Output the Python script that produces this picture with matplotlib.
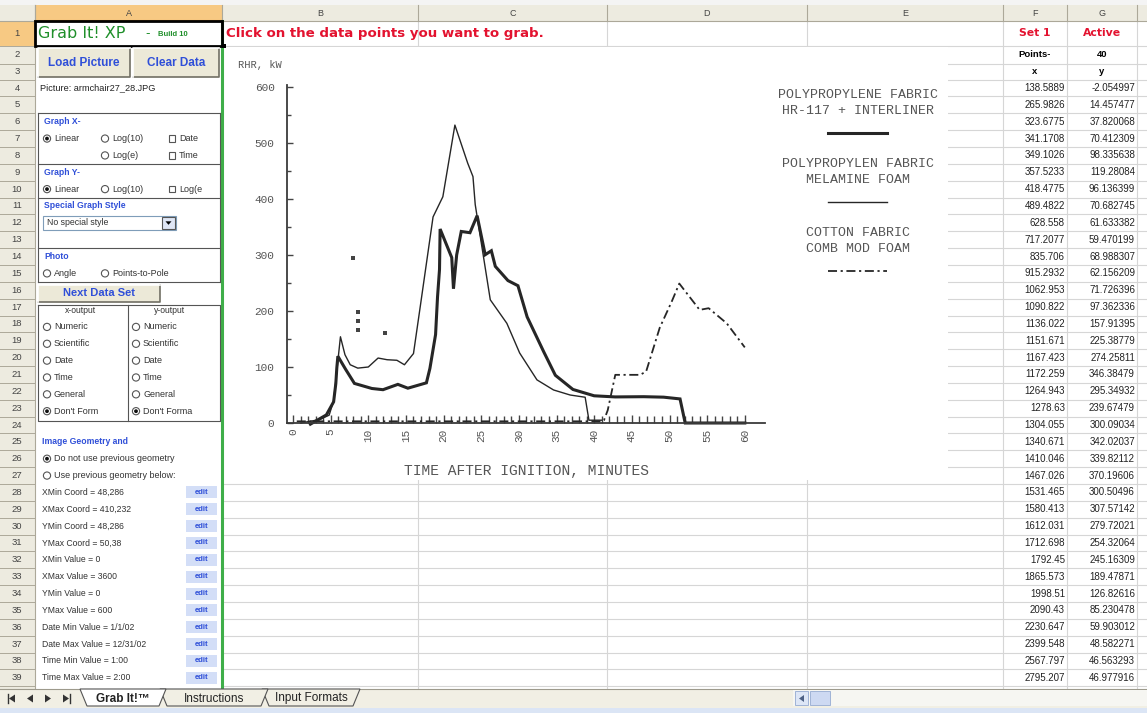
import matplotlib
matplotlib.use("Agg")
import matplotlib.pyplot as plt
from matplotlib.patches import Rectangle, Circle, Polygon

W, H = 1147, 713

# ---------------- data ----------------
# Set 1 as grabbed by the sheet: time in seconds, heat release in kW
set1_x = [138.5889, 265.9826, 323.6775, 341.1708, 349.1026, 357.5233, 418.4775,
          489.4822, 628.558, 717.2077, 835.706, 915.2932, 1062.953, 1090.822,
          1136.022, 1151.671, 1167.423, 1172.259, 1264.943, 1278.63, 1304.055,
          1340.671, 1410.046, 1467.026, 1531.465, 1580.413, 1612.031, 1712.698,
          1792.45, 1865.573, 1998.51, 2090.43, 2230.647, 2399.548, 2567.797,
          2795.207, 2953.443, 3084.0, 3125.0, 3600.0]
set1_y = [-2.054997, 14.457477, 37.820068, 70.412309, 98.335638, 119.28084,
          96.136399, 70.682745, 61.633382, 59.470199, 68.988307, 62.156209,
          71.726396, 97.362336, 157.91395, 225.38779, 274.25811, 346.38479,
          295.34932, 239.67479, 300.09034, 342.02037, 339.82112, 370.19606,
          300.50496, 307.57142, 279.72021, 254.32064, 245.16309, 189.47871,
          126.82616, 85.230478, 59.903012, 48.582271, 46.563293, 46.977916,
          46.12117, 43.0, 0.0, 0.0]
n_points = len(set1_x)
n_shown = 36   # rows fully visible above the sheet tabs

# the other two curves of the scanned plot (minutes, kW)
mela_t = [1.0, 3.5, 4.8, 5.4, 6.3, 6.9, 7.6, 8.6, 10.0, 11.3, 12.5, 13.8, 14.8,
          16.0, 16.9, 18.6, 19.9, 21.5, 23.2, 23.9, 24.2, 26.2, 28.4, 30.1,
          32.4, 34.6, 36.8, 38.8, 39.3, 41.0]
mela_q = [0, 6, 14, 40, 154, 122, 104, 98, 100, 116, 113, 112, 104, 124, 208,
          368, 404, 532, 464, 440, 390, 220, 178, 125, 77, 59, 50, 46, 5, 5]
cotton_t = [0.5, 41.0, 41.3, 41.8, 42.8, 46.1, 46.9, 48.7, 50.3, 51.3, 54.0,
            55.2, 57.6, 60.0]
cotton_q = [3, 3, 5, 23, 86, 86, 92, 170, 217, 249, 202, 205, 178, 135]
speck_t = [8.0, 8.6, 8.6, 8.6, 12.2]
speck_q = [295, 198, 182, 166, 161]

y_ticks = [0, 100, 200, 300, 400, 500, 600]
x_ticks = [0, 5, 10, 15, 20, 25, 30, 35, 40, 45, 50, 55, 60]
legend_blocks = [("POLYPROPYLENE FABRIC", "HR-117 + INTERLINER"),
                 ("POLYPROPYLEN FABRIC", "MELAMINE FOAM"),
                 ("COTTON FABRIC", "COMB MOD FOAM")]

col_names = ["A", "B", "C", "D", "E", "F", "G"]
col_edges = [35, 222, 418, 607, 807, 1003, 1067, 1137]

output_kinds = ["Numeric", "Scientific", "Date", "Time", "General", "Don't Form"]
geometry = ["XMin Coord = 48,286", "XMax Coord = 410,232", "YMin Coord = 48,286",
            "YMax Coord = 50,38", "XMin Value = 0", "XMax Value = 3600",
            "YMin Value = 0", "YMax Value = 600", "Date Min Value = 1/1/02",
            "Date Max Value = 12/31/02", "Time Min Value = 1:00",
            "Time Max Value = 2:00"]
sheet_tabs = ["Grab It!\u2122", "Instructions", "Input Formats"]

SANS = "Liberation Sans"
WIDE = "DejaVu Sans"
MONO = "Liberation Mono"
BLUE = "#2f4fd8"
GRID = "#d6d6d6"
HEAD = "#edebe0"
HEAD_EDGE = "#aca899"
TAB_Y = 689


def row_top(k):
    if k == 1:
        return 21
    if k == 2:
        return 46
    if k == 3:
        return 63.5
    return 79.6 + (k - 4) * 16.85


def row_mid(k):
    return (row_top(k) + row_top(k + 1)) / 2


fig = plt.figure(figsize=(W / 100, H / 100), dpi=100)
ax = fig.add_axes([0, 0, 1, 1])
ax.set_xlim(0, W)
ax.set_ylim(H, 0)
ax.axis("off")


def txt(x, y, s, size=6.5, color="#333333", ha="left", weight="normal",
        family=SANS, z=4):
    ax.text(x, y, s, fontsize=size, color=color, ha=ha, va="center",
            family=family, fontweight=weight, zorder=z)


def button(x0, y0, x1, y1, label, size=8.5):
    ax.add_patch(Rectangle((x0, y0), x1 - x0, y1 - y0, fc="#ece9d8", ec="none",
                           zorder=3))
    ax.plot([x0, x1, x1], [y1, y1, y0], color="#716f64", lw=1.2, zorder=3.2)
    ax.plot([x0, x0, x1], [y1, y0, y0], color="white", lw=1.2, zorder=3.2)
    txt((x0 + x1) / 2, (y0 + y1) / 2, label, size=size, color=BLUE, ha="center",
        weight="bold")


def radio(x, y, on=False):
    ax.add_patch(Circle((x, y), 3.6, fc="white", ec="#555555", lw=0.8, zorder=3))
    if on:
        ax.add_patch(Circle((x, y), 1.9, fc="#111111", ec="none", zorder=3.5))


def check(x, y):
    ax.add_patch(Rectangle((x - 3.3, y - 3.3), 6.6, 6.6, fc="white", ec="#555555",
                           lw=0.8, zorder=3))


def pline(xs, ys, color="#555555", lw=0.8):
    ax.plot(xs, ys, color=color, lw=lw, zorder=3)


# ---------------- sheet grid ----------------
for k in range(1, 41):
    y = row_top(k + 1)
    ax.plot([222, W], [y, y], color=GRID, lw=0.8, zorder=1)
for e in col_edges[1:]:
    ax.plot([e, e], [21, TAB_Y], color=GRID, lw=0.8, zorder=1)

# column headers
ax.add_patch(Rectangle((0, 0), W, 5, fc="#f4f4f4", ec="none"))
ax.add_patch(Rectangle((0, 5), W, 16, fc=HEAD, ec="none"))
ax.add_patch(Rectangle((35, 5), 187, 16, fc="#f7c983", ec="none"))
ax.plot([0, W], [21, 21], color=HEAD_EDGE, lw=0.8)
ax.plot([35, 222], [20.5, 20.5], color="#e39a2e", lw=1.5)
for e in col_edges:
    ax.plot([e, e], [5, 21], color=HEAD_EDGE, lw=0.8)
for i, name in enumerate(col_names):
    txt((col_edges[i] + col_edges[i + 1]) / 2, 13, name, size=6.5,
        color="#444444", ha="center")

# row headers
ax.add_patch(Rectangle((0, 21), 35, TAB_Y - 21, fc=HEAD, ec="none"))
ax.add_patch(Rectangle((0, 21), 35, 25, fc="#f7c983", ec="none"))
ax.plot([35, 35], [5, TAB_Y], color=HEAD_EDGE, lw=0.8)
for k in range(1, 40):
    ax.plot([0, 35], [row_top(k + 1)] * 2, color=HEAD_EDGE, lw=0.7)
    txt(17, row_mid(k), str(k), size=6.8, color="#444444", ha="center")

# ---------------- column A: Grab It! panel ----------------
ax.add_patch(Rectangle((35, 21), 187, TAB_Y - 21, fc="white", ec="none",
                       zorder=1.5))
ax.plot([222, 222], [21, TAB_Y], color="#3fae49", lw=2.2, zorder=3)
ax.add_patch(Rectangle((35, 21), 187, 25, fc="none", ec="black", lw=2, zorder=3))
txt(38, 33.5, "Grab It! XP", size=11.5, color="#1f8f2a", family=WIDE)
txt(145, 34, "-", size=9, color="#1f8f2a", family=WIDE)
txt(158, 34.5, "Build 10", size=5.5, color="#1f8f2a", weight="bold")

button(38, 48, 130, 77, "Load Picture")
button(133, 48, 219, 77, "Clear Data")
txt(40, row_mid(4), "Picture: armchair27_28.JPG", size=6.6, color="#222222")

# upper group boxes
box_left, box_right = 38, 220
for k in (6, 9, 11, 14, 16):
    pline([box_left, box_right], [row_top(k)] * 2)
pline([box_left, box_left], [row_top(6), row_top(16)])
pline([box_right, box_right], [row_top(6), row_top(16)])
txt(44, row_mid(6), "Graph X-", size=6.2, color=BLUE, weight="bold")
radio(47, row_mid(7), True)
txt(54, row_mid(7), "Linear")
radio(105, row_mid(7))
txt(112, row_mid(7), "Log(10)")
check(172, row_mid(7))
txt(179, row_mid(7), "Date")
radio(105, row_mid(8))
txt(112, row_mid(8), "Log(e)")
check(172, row_mid(8))
txt(179, row_mid(8), "Time")
txt(44, row_mid(9), "Graph Y-", size=6.2, color=BLUE, weight="bold")
radio(47, row_mid(10), True)
txt(54, row_mid(10), "Linear")
radio(105, row_mid(10))
txt(112, row_mid(10), "Log(10)")
check(172, row_mid(10))
txt(179, row_mid(10), "Log(e")
txt(44, row_mid(11), "Special Graph Style", size=6.2, color=BLUE, weight="bold")
ax.add_patch(Rectangle((43, row_mid(12) - 7), 133, 14, fc="white", ec="#7f9db9",
                       lw=0.8, zorder=3))
txt(47, row_mid(12), "No special style", size=6.3)
ax.add_patch(Rectangle((162, row_mid(12) - 6), 13, 12, fc="#dfe6f5", ec="#555555",
                       lw=0.8, zorder=3.5))
ax.add_patch(Polygon([[165.5, row_mid(12) - 1.5], [171.5, row_mid(12) - 1.5],
                      [168.5, row_mid(12) + 2]], closed=True, fc="black", zorder=4))
txt(44, row_mid(14), "Photo", size=6.2, color=BLUE, weight="bold")
radio(47, row_mid(15))
txt(54, row_mid(15), "Angle")
radio(105, row_mid(15))
txt(112, row_mid(15), "Points-to-Pole")

button(38, row_top(16) + 3, 160, row_top(17) + 3, "Next Data Set", size=8)

# output format boxes
out_top, out_bot = row_top(17) + 6, row_top(24) + 4
pline([38, 220, 220, 38, 38], [out_top, out_top, out_bot, out_bot, out_top])
pline([128, 128], [out_top, out_bot])
txt(80, out_top + 6, "x-output", size=6.2, ha="center")
txt(170, out_top + 6, "y-output", size=6.2, ha="center")
for i, kind in enumerate(output_kinds):
    y = row_mid(18 + i) + 3
    radio(47, y, kind == "Don't Form")
    txt(54, y, kind)
    radio(136, y, kind == "Don't Form")
    txt(143, y, kind if kind != "Don't Form" else "Don't Forma")

txt(42, row_mid(25), "Image Geometry and", size=6.2, color=BLUE, weight="bold")
radio(47, row_mid(26), True)
txt(54, row_mid(26), "Do not use previous geometry")
radio(47, row_mid(27))
txt(54, row_mid(27), "Use previous geometry below:")
for i, label in enumerate(geometry):
    y = row_mid(28 + i)
    txt(42, y, label, size=6.2)
    ax.add_patch(Rectangle((186, y - 6), 31, 12, fc="#d3def7", ec="none", zorder=3))
    txt(201.5, y, "edit", size=5.5, color=BLUE, ha="center", weight="bold")

# ---------------- columns B..G ----------------
txt(226, 33.5, "Click on the data points you want to grab.", size=9.6,
    color="#e3122f", family=WIDE, weight="bold")
txt(1035, row_mid(1), "Set 1", size=7.8, color="#e3122f", ha="center",
    weight="bold", family=WIDE)
txt(1102, row_mid(1), "Active", size=7.8, color="#e3122f", ha="center",
    weight="bold", family=WIDE)
txt(1035, row_mid(2), "Points-", size=6.8, color="black", ha="center", weight="bold")
txt(1102, row_mid(2), str(n_points), size=6.8, color="black", ha="center",
    weight="bold")
txt(1035, row_mid(3), "x", size=6.8, color="black", ha="center", weight="bold")
txt(1102, row_mid(3), "y", size=6.8, color="black", ha="center", weight="bold")
for i in range(n_shown):
    y = row_mid(4 + i)
    txt(1065, y, f"{set1_x[i]:.7g}", size=7, color="#222222", ha="right", z=2)
    txt(1135, y, f"{set1_y[i]:.8g}", size=7, color="#222222", ha="right", z=2)

# scanned picture area
ax.add_patch(Rectangle((223, 46.5), 725, 433, fc="white", ec="none", zorder=2))
ax.add_patch(Rectangle((222, 44), 4, 4, fc="black", ec="none", zorder=3))

# ---------------- sheet tabs ----------------
ax.add_patch(Rectangle((0, TAB_Y), W, 19, fc="#f1efe4", ec="none", zorder=5))
ax.plot([0, W], [TAB_Y, TAB_Y], color="#9d9a8c", lw=0.8, zorder=6)
ax.add_patch(Rectangle((0, TAB_Y + 19), W, H - TAB_Y - 19, fc="#dbe5f5",
                       ec="none", zorder=5))
ym = TAB_Y + 9.5
for x0, d in ((12, -1), (30, -1), (48, 1), (66, 1)):
    ax.add_patch(Polygon([[x0 - 3 * d, ym - 4], [x0 - 3 * d, ym + 4], [x0 + 3 * d, ym]],
                         closed=True, fc="#333333", zorder=6))
ax.plot([8, 8], [ym - 4.5, ym + 4.5], color="#333333", lw=1, zorder=6)
ax.plot([70, 70], [ym - 4.5, ym + 4.5], color="#333333", lw=1, zorder=6)
tab_edges = [(80, 166), (160, 268), (262, 360)]
for j in (2, 1, 0):
    label = sheet_tabs[j]
    x0, x1 = tab_edges[j]
    fc = "white" if j == 0 else "#f1efe4"
    zt = 9 if j == 0 else 6 + (2 - j)
    ax.add_patch(Polygon([[x0, TAB_Y], [x0 + 7, TAB_Y + 17], [x1 - 7, TAB_Y + 17],
                          [x1, TAB_Y]], closed=True, fc=fc, ec="#555555", lw=0.8,
                         zorder=zt))
    txt((x0 + x1) / 2, ym, label, size=8.5, color="#222222", ha="center",
        weight="bold" if j == 0 else "normal", z=zt + 0.5)
ax.add_patch(Rectangle((793, TAB_Y + 1), W - 793, 16, fc="#f6f6f2", ec="none",
                       zorder=6))
ax.add_patch(Rectangle((795, TAB_Y + 2), 13, 14, fc="#dde6f6", ec="#9fb3d6", lw=0.7,
                       zorder=7))
ax.add_patch(Polygon([[804, ym - 3.5], [804, ym + 3.5], [799, ym]], closed=True,
                     fc="#4d6185", zorder=8))
ax.add_patch(Rectangle((810, TAB_Y + 2), 20, 14, fc="#cdd9f2", ec="#9fb3d6", lw=0.7,
                       zorder=7))

# ---------------- the scanned RHR chart ----------------
px0, py0 = 293.0, 423.0          # pixel of t=0, q=0
sx, sy = 7.53, 0.56              # pixels per minute, per kW
left_px, right_px, top_px = 287.0, 765.0, 85.0
cax = fig.add_axes([left_px / W, (H - py0) / H, (right_px - left_px) / W,
                    (py0 - top_px) / H])
cax.set_xlim((left_px - px0) / sx, (right_px - px0) / sx)
cax.set_ylim(0, (py0 - top_px) / sy)
cax.patch.set_alpha(0)
for side in ("top", "right"):
    cax.spines[side].set_visible(False)
for side in ("left", "bottom"):
    cax.spines[side].set_color("#3a3a3a")
    cax.spines[side].set_linewidth(1.3)

ink = "#262626"
thick_t = [v / 60 for v in set1_x]
cax.plot(thick_t, set1_y, color=ink, lw=2.2, solid_joinstyle="miter", clip_on=False)
cax.plot(mela_t, mela_q, color=ink, lw=1.0, clip_on=False)
cax.plot(cotton_t, cotton_q, color=ink, lw=1.3, dashes=(5, 2, 1.2, 2), clip_on=False)
cax.plot(speck_t, speck_q, "s", color="#444444", ms=2.2, mew=0)

cax.set_yticks(y_ticks)
cax.set_yticks(range(50, 600, 100), minor=True)
cax.set_xticks(x_ticks)
cax.set_xticks(range(0, 61), minor=True)
cax.tick_params(axis="both", which="both", direction="in", color="#444444",
                width=1)
cax.tick_params(axis="y", which="major", length=4, pad=9, labelsize=8,
                labelcolor="#555555")
cax.tick_params(axis="y", which="minor", length=3)
cax.tick_params(axis="x", which="major", length=6, pad=4, labelsize=8,
                labelcolor="#555555", labelrotation=90)
cax.tick_params(axis="x", which="minor", length=5)
for lab in cax.get_xticklabels() + cax.get_yticklabels():
    lab.set_family(MONO)

ax.text(238, 65, "RHR, kW", fontsize=7.5, family=MONO, color="#555555",
        va="center", zorder=4)
ax.text(526, 471, "TIME AFTER IGNITION, MINUTES", fontsize=10.5, family=MONO,
        color="#555555", ha="center", va="center", zorder=4)

# legend of the scanned chart
styles = [dict(lw=2.2), dict(lw=1.0), dict(lw=1.3, dashes=(5, 2, 1.2, 2))]
for i, (l1, l2) in enumerate(legend_blocks):
    y1 = 95 + i * 69
    ax.text(858, y1, l1, fontsize=9.5, family=MONO, color="#555555",
            ha="center", va="center", zorder=4)
    ax.text(858, y1 + 16, l2, fontsize=9.5, family=MONO, color="#555555",
            ha="center", va="center", zorder=4)
    ax.plot([828, 887], [y1 + 38, y1 + 38], color=ink, zorder=4, **styles[i])

fig.savefig("out.png", dpi=100)
